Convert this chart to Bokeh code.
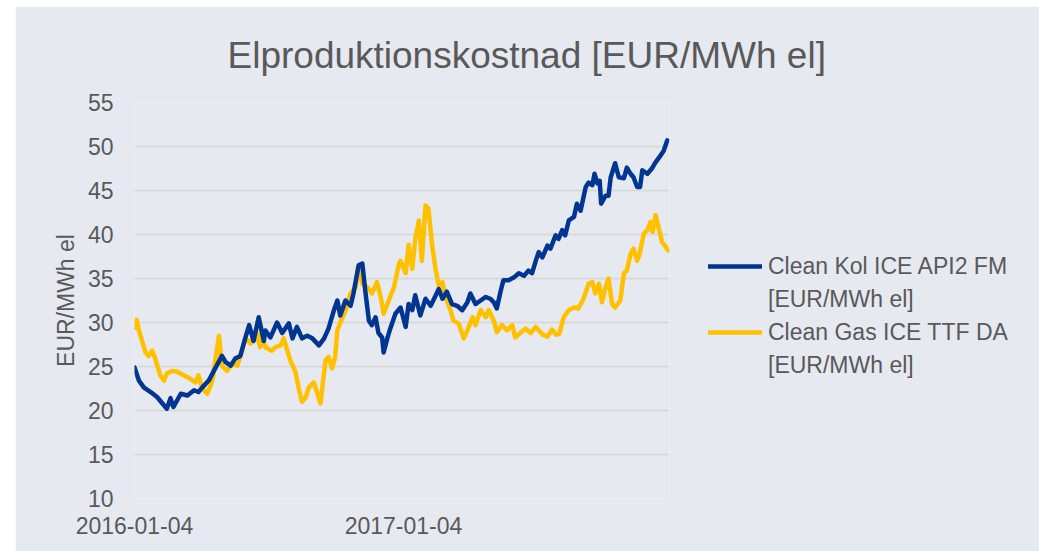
import pandas as pd
from bokeh.plotting import figure
from bokeh.models import (Legend, LegendItem, FixedTicker, DatetimeTickFormatter,
                          Range1d, ColumnDataSource)
from bokeh.embed import file_html
from bokeh.resources import INLINE

# ---------------- data ----------------
coal_dates = [
    "2016-01-04", "2016-01-10", "2016-01-17", "2016-01-26", "2016-02-04", "2016-02-13",
    "2016-02-17", "2016-02-22", "2016-02-26", "2016-03-07", "2016-03-16", "2016-03-25",
    "2016-03-31", "2016-04-05", "2016-04-14", "2016-04-21", "2016-05-02", "2016-05-07",
    "2016-05-14", "2016-05-20", "2016-05-27", "2016-06-03", "2016-06-08", "2016-06-14",
    "2016-06-21", "2016-06-28", "2016-06-30", "2016-07-07", "2016-07-16", "2016-07-23",
    "2016-08-01", "2016-08-06", "2016-08-12", "2016-08-19", "2016-08-26", "2016-09-02",
    "2016-09-11", "2016-09-18", "2016-09-24", "2016-10-01", "2016-10-06", "2016-10-10",
    "2016-10-17", "2016-10-24", "2016-10-28", "2016-11-04", "2016-11-09", "2016-11-13",
    "2016-11-18", "2016-11-22", "2016-11-27", "2016-12-01", "2016-12-06", "2016-12-08",
    "2016-12-13", "2016-12-17", "2016-12-24", "2016-12-31", "2017-01-07", "2017-01-11",
    "2017-01-16", "2017-01-20", "2017-01-27", "2017-02-03", "2017-02-10", "2017-02-17",
    "2017-02-21", "2017-02-26", "2017-03-04", "2017-03-11", "2017-03-18", "2017-03-25",
    "2017-04-01", "2017-04-05", "2017-04-12", "2017-04-19", "2017-04-26", "2017-05-02",
    "2017-05-07", "2017-05-11", "2017-05-16", "2017-05-20", "2017-05-27", "2017-06-03",
    "2017-06-10", "2017-06-17", "2017-06-23", "2017-06-28", "2017-07-03", "2017-07-07",
    "2017-07-12", "2017-07-19", "2017-07-23", "2017-07-30", "2017-08-03", "2017-08-08",
    "2017-08-12", "2017-08-17", "2017-08-24", "2017-08-28", "2017-09-02", "2017-09-09",
    "2017-09-13", "2017-09-18", "2017-09-21", "2017-09-25", "2017-09-28", "2017-09-30",
    "2017-10-06", "2017-10-10", "2017-10-13", "2017-10-19", "2017-10-24", "2017-10-31",
    "2017-11-04", "2017-11-09", "2017-11-13", "2017-11-18", "2017-11-22", "2017-11-25",
    "2017-12-02", "2017-12-08", "2017-12-13", "2017-12-20", "2017-12-24", "2017-12-29",
]
coal_vals = [
    24.9, 23.4, 22.6, 22.1, 21.5, 20.6,
    20.2, 21.4, 20.4, 21.9, 21.7, 22.3,
    22.1, 22.6, 23.4, 24.5, 26.2, 25.5,
    25.1, 25.9, 26.2, 28.3, 29.7, 27.9,
    30.6, 27.9, 29.1, 28.3, 30.0, 28.8,
    29.9, 28.2, 29.5, 28.2, 28.5, 28.2,
    27.4, 28.2, 29.3, 31.3, 32.5, 30.8,
    32.5, 31.9, 33.3, 36.5, 36.7, 33.6,
    30.2, 29.7, 30.6, 28.8, 28.3, 26.6,
    28.2, 29.3, 31.0, 31.7, 29.5, 32.1,
    31.4, 33.1, 30.8, 32.7, 31.9, 33.1,
    33.8, 32.7, 33.5, 32.1, 31.9, 31.4,
    32.3, 33.3, 32.1, 32.5, 32.9, 32.7,
    32.3, 31.6, 33.5, 34.8, 34.8, 35.1,
    35.6, 35.3, 35.9, 35.6, 37.0, 38.0,
    37.4, 38.75, 38.4, 39.9, 39.5, 40.5,
    39.9, 41.6, 42.0, 43.5, 42.7, 45.4,
    45.9, 45.6, 46.9, 45.8, 46.1, 43.5,
    44.4, 44.4, 46.5, 48.1, 46.5, 46.4,
    47.6, 46.9, 46.5, 45.4, 45.4, 47.3,
    46.9, 47.5, 48.2, 49.0, 49.5, 50.7,
]

gas_dates = [
    "2016-01-04", "2016-01-07", "2016-01-10", "2016-01-14", "2016-01-19", "2016-01-23",
    "2016-01-28", "2016-02-02", "2016-02-08", "2016-02-13", "2016-02-17", "2016-02-24",
    "2016-03-02", "2016-03-11", "2016-03-20", "2016-03-27", "2016-03-31", "2016-04-05",
    "2016-04-12", "2016-04-19", "2016-04-23", "2016-04-28", "2016-05-02", "2016-05-09",
    "2016-05-16", "2016-05-23", "2016-05-30", "2016-06-03", "2016-06-10", "2016-06-17",
    "2016-06-23", "2016-06-25", "2016-06-30", "2016-07-09", "2016-07-14", "2016-07-21",
    "2016-07-25", "2016-07-30", "2016-08-03", "2016-08-10", "2016-08-15", "2016-08-19",
    "2016-08-24", "2016-08-28", "2016-09-04", "2016-09-09", "2016-09-13", "2016-09-20",
    "2016-09-24", "2016-09-29", "2016-10-03", "2016-10-06", "2016-10-10", "2016-10-17",
    "2016-10-24", "2016-10-31", "2016-11-03", "2016-11-09", "2016-11-16", "2016-11-22",
    "2016-11-29", "2016-12-04", "2016-12-08", "2016-12-15", "2016-12-22", "2016-12-29",
    "2016-12-31", "2017-01-07", "2017-01-11", "2017-01-16", "2017-01-20", "2017-01-25",
    "2017-01-29", "2017-02-03", "2017-02-07", "2017-02-12", "2017-02-17", "2017-02-21",
    "2017-02-26", "2017-03-02", "2017-03-09", "2017-03-13", "2017-03-20", "2017-03-27",
    "2017-04-01", "2017-04-08", "2017-04-12", "2017-04-19", "2017-04-26", "2017-04-30",
    "2017-05-07", "2017-05-11", "2017-05-18", "2017-05-25", "2017-06-01", "2017-06-05",
    "2017-06-12", "2017-06-19", "2017-06-26", "2017-07-03", "2017-07-07", "2017-07-13",
    "2017-07-19", "2017-07-25", "2017-07-31", "2017-08-04", "2017-08-10", "2017-08-17",
    "2017-08-24", "2017-08-30", "2017-09-06", "2017-09-13", "2017-09-18", "2017-09-22",
    "2017-09-27", "2017-10-01", "2017-10-06", "2017-10-10", "2017-10-15", "2017-10-19",
    "2017-10-26", "2017-10-31", "2017-11-04", "2017-11-09", "2017-11-13", "2017-11-18",
    "2017-11-22", "2017-11-27", "2017-12-02", "2017-12-06", "2017-12-09", "2017-12-13",
    "2017-12-18", "2017-12-22", "2017-12-27", "2017-12-30",
]
gas_vals = [
    29.4, 30.3, 29.1, 28.0, 26.6, 26.2,
    26.8, 25.7, 24.0, 23.4, 24.2, 24.5,
    24.4, 24.0, 23.6, 23.2, 24.0, 22.5,
    21.9, 23.4, 25.7, 28.5, 25.1, 24.5,
    25.3, 25.1, 27.0, 28.2, 27.6, 29.1,
    27.2, 29.0, 27.2, 26.8, 27.2, 27.4,
    28.2, 26.8, 25.7, 24.4, 22.3, 21.0,
    21.5, 22.6, 23.2, 21.9, 20.8, 25.7,
    26.1, 24.8, 26.1, 29.1, 30.0, 31.3,
    33.3, 34.0, 36.3, 34.4, 34.0, 33.3,
    34.6, 32.9, 31.0, 32.5, 34.0, 36.7,
    37.0, 35.6, 38.8, 36.1, 39.5, 41.6,
    37.0, 43.3, 42.9, 38.8, 35.9, 34.2,
    34.6, 32.9, 31.4, 30.2, 29.9, 28.2,
    29.1, 30.6, 29.7, 31.4, 30.6, 31.4,
    30.2, 28.9, 29.7, 29.1, 29.7, 28.3,
    28.8, 29.3, 28.8, 29.5, 29.1, 28.6,
    28.4, 29.2, 28.6, 28.7, 30.6, 31.4,
    31.7, 31.6, 32.7, 34.4, 34.6, 33.3,
    34.4, 32.3, 34.0, 35.0, 32.1, 31.7,
    32.5, 35.6, 35.9, 37.8, 38.4, 37.0,
    38.0, 40.1, 40.5, 41.4, 40.3, 42.2,
    40.5, 39.1, 38.6, 38.2,
]

series_names = ["Clean Kol ICE API2 FM", "Clean Gas ICE TTF DA"]
series_unit = "[EUR/MWh el]"
series_colors = ["#003591", "#FFC000"]
x_tick_labels = ["2016-01-04", "2017-01-04"]
y_ticks = [10, 15, 20, 25, 30, 35, 40, 45, 50, 55]
title_text = "Elproduktionskostnad [EUR/MWh el]"
y_label = "EUR/MWh el"

# ---------------- figure ----------------
BG = "#E6E9F0"
TXT = "#595959"
FONT = "Liberation Sans"

x_start = pd.Timestamp("2016-01-04")
x_end = pd.Timestamp("2018-01-01")

p = figure(frame_width=535, frame_height=396, x_axis_type="datetime",
           x_range=Range1d(x_start, x_end), y_range=Range1d(10, 55),
           output_backend="svg", toolbar_location=None,
           margin=(6, 0, 0, 15),
           min_border_left=119, min_border_top=96, min_border_bottom=53,
           min_border_right=369, title=title_text)

p.background_fill_color = BG
p.border_fill_color = BG
p.outline_line_color = None

p.title.text_font = FONT
p.title.text_font_size = "37px"
p.title.text_font_style = "normal"
p.title.text_color = TXT
p.title.align = "left"
p.title.offset = 93
p.title.vertical_align = "top"
p.title.standoff = 50

src_c = ColumnDataSource(dict(x=pd.to_datetime(coal_dates), y=coal_vals))
src_g = ColumnDataSource(dict(x=pd.to_datetime(gas_dates), y=gas_vals))

r_c = p.line("x", "y", source=src_c, line_color=series_colors[0], line_width=4.5,
             line_join="round", line_cap="round")
r_g = p.line("x", "y", source=src_g, line_color=series_colors[1], line_width=4.5,
             line_join="round", line_cap="round")
# invisible renderer used only for the second (unit) line of each legend entry
r_blank = p.line([], [], line_alpha=0)
p.renderers = [r_g, r_c, r_blank]

# grid
p.xgrid.visible = False
p.ygrid.grid_line_color = "#D9D9D9"
p.ygrid.grid_line_width = 2
p.ygrid.ticker = FixedTicker(ticks=y_ticks)

# axes
for ax in (p.xaxis[0], p.yaxis[0]):
    ax.axis_line_color = None
    ax.major_tick_line_color = None
    ax.minor_tick_line_color = None
    ax.major_label_text_font = FONT
    ax.major_label_text_font_size = "23px"
    ax.major_label_text_color = TXT

p.yaxis[0].ticker = FixedTicker(ticks=y_ticks)
p.yaxis[0].major_label_standoff = 15
p.yaxis[0].axis_label = y_label
p.yaxis[0].axis_label_text_font = FONT
p.yaxis[0].axis_label_text_font_size = "23px"
p.yaxis[0].axis_label_text_font_style = "normal"
p.yaxis[0].axis_label_text_color = TXT
p.yaxis[0].axis_label_standoff = 6

x_ticks_ms = [pd.Timestamp(t).value / 1e6 for t in x_tick_labels]
p.xaxis[0].ticker = FixedTicker(ticks=x_ticks_ms)
p.xaxis[0].formatter = DatetimeTickFormatter(
    days="%Y-%m-%d", months="%Y-%m-%d", years="%Y-%m-%d", hours="%Y-%m-%d",
    minutes="%Y-%m-%d", seconds="%Y-%m-%d", milliseconds="%Y-%m-%d",
    microseconds="%Y-%m-%d", minsec="%Y-%m-%d", hourmin="%Y-%m-%d")
p.xaxis[0].major_label_standoff = 12

legend = Legend(items=[LegendItem(label=series_names[0], renderers=[r_c]),
                       LegendItem(label=series_unit, renderers=[r_blank]),
                       LegendItem(label=series_names[1], renderers=[r_g]),
                       LegendItem(label=series_unit, renderers=[r_blank])],
                location=(39, 118))
legend.background_fill_alpha = 0
legend.border_line_color = None
legend.padding = 0
legend.margin = 0
legend.spacing = 3
legend.glyph_width = 54
legend.glyph_height = 30
legend.label_height = 30
legend.label_standoff = 6
legend.label_text_font = FONT
legend.label_text_font_size = "23px"
legend.label_text_line_height = 1.0
legend.label_text_color = TXT
p.add_layout(legend, "right")

open("out.html", "w").write(file_html(p, INLINE))
